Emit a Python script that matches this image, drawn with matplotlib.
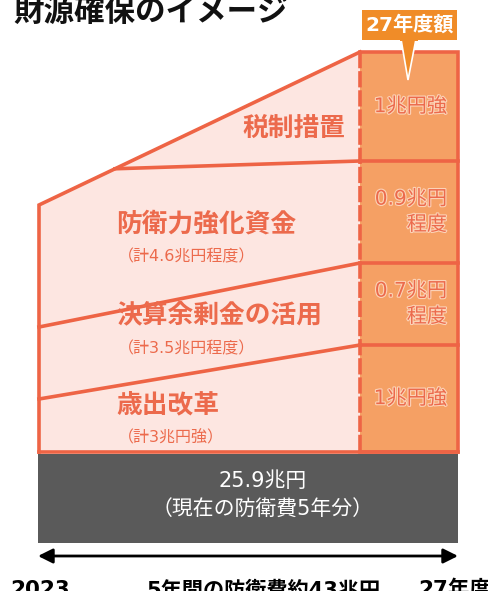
import matplotlib
matplotlib.use("Agg")
import matplotlib.pyplot as plt
from matplotlib.patches import Polygon, Rectangle
import matplotlib.patheffects as pe

plt.rcParams['font.family'] = ['Noto Sans CJK JP', 'DejaVu Sans']
MIX = ['DejaVu Sans', 'Noto Sans CJK JP']

# ---- data (schematic diagram, pixel-like units, y downward) ----
title = "財源確保のイメージ"
layer_names = ["歳出改革", "決算余剰金の活用", "防衛力強化資金", "税制措置"]
layer_totals = ["（計3兆円強）", "（計3.5兆円程度）", "（計4.6兆円程度）", ""]
annual_27 = ["1兆円強", "0.7兆円\n程度", "0.9兆円\n程度", "1兆円強"]
base_labels = ["25.9兆円", "（現在の防衛費5年分）"]
period_labels = ["2023", "5年間の防衛費約43兆円", "27年度"]
box_label = "27年度額"

# boundaries: x positions (2023 edge, start of FY27, end of FY27)
x_start, x_27, x_end = 39, 360, 458
# layer boundaries at left edge (bottom -> top) and at FY27 edge
left_bounds = [452, 399, 327, 205]
right_bounds = [452, 345, 263, 161, 52]
tax_start_x = 115
base_bottom = 543

RED = "#EE6445"
PINK = "#FDE6E1"
ORANGE = "#F5A064"
TAG = "#F08C28"
GRAY = "#5A5A5A"
TXT = "#EC6A4C"

fig = plt.figure(figsize=(4.89, 5.91), dpi=100)
ax = fig.add_axes([0, 0, 1, 1])
ax.set_xlim(0, 489)
ax.set_ylim(591, 0)
ax.axis("off")

# light area
top_at = lambda x: left_bounds[-1] + (right_bounds[-1] - left_bounds[-1]) * (x - x_start) / (x_27 - x_start)
ax.add_patch(Polygon([(x_start, left_bounds[0]), (x_start, left_bounds[-1]),
                      (x_27, right_bounds[-1]), (x_27, right_bounds[0])],
                     closed=True, facecolor=PINK, edgecolor="none", zorder=1))
# orange box
ax.add_patch(Rectangle((x_27, right_bounds[-1]), x_end - x_27, right_bounds[0] - right_bounds[-1],
                       facecolor=ORANGE, edgecolor="none", zorder=1))

lw = 2.6
# outline
ax.plot([x_start, x_start, x_27], [left_bounds[0], left_bounds[-1], right_bounds[-1]],
        color=RED, lw=lw, solid_joinstyle="miter", zorder=3)
ax.plot([x_start, x_end], [right_bounds[0], right_bounds[0]], color=RED, lw=lw, zorder=3)
ax.plot([x_27, x_end, x_end, x_27], [right_bounds[-1], right_bounds[-1], right_bounds[0], right_bounds[0]],
        color=RED, lw=lw, solid_joinstyle="miter", zorder=3)
# dividers
for i in range(1, 3):
    ax.plot([x_start, x_27], [left_bounds[i], right_bounds[i]], color=RED, lw=lw, zorder=3)
ax.plot([tax_start_x, x_27], [top_at(tax_start_x), right_bounds[3]], color=RED, lw=lw, zorder=3)
for i in range(1, 4):
    ax.plot([x_27, x_end], [right_bounds[i], right_bounds[i]], color=RED, lw=lw, zorder=3)
# dashed vertical line
ax.plot([x_27, x_27], [right_bounds[-1], right_bounds[0]], color=RED, lw=lw,
        dashes=(4.5, 0.8), zorder=4)

# layer labels
name_pos = [(116, 405), (116, 315), (116, 224), (345, 128)]
total_pos = [(118, 438), (118, 349), (118, 257)]
for i, name in enumerate(layer_names):
    x, y = name_pos[i]
    ax.text(x, y, name, ha="right" if i == 3 else "left", va="center",
            fontsize=18.5, fontweight="bold", color=TXT, zorder=5)
for i, t in enumerate(layer_totals[:3]):
    x, y = total_pos[i]
    ax.text(x, y, t, ha="left", va="center", fontsize=11.5, color=TXT,
            family=MIX, zorder=5)

# FY27 amounts
stroke = [pe.withStroke(linewidth=1.6, foreground="#FCD3B8")]
for i, a in enumerate(annual_27):
    yc = (right_bounds[i] + right_bounds[i + 1]) / 2
    ax.text(447, yc, a, ha="right", va="center", fontsize=14.5, color=TXT,
            family=MIX, linespacing=1.45, path_effects=stroke, zorder=5)

# tag "27年度額"
ax.add_patch(Rectangle((362, 10), 95, 30, facecolor=TAG, edgecolor="none", zorder=6))
ax.add_patch(Polygon([(401, 39), (416, 39), (408, 80)], closed=True,
                     facecolor=TAG, edgecolor="white", lw=1.2, zorder=6))
ax.add_patch(Rectangle((399.5, 36), 18, 5, facecolor=TAG, edgecolor="none", zorder=7))
ax.text(409.5, 25, box_label, ha="center", va="center", fontsize=14.5,
        fontweight="bold", color="white", family=MIX, zorder=8)

# base (current budget)
ax.add_patch(Rectangle((x_start - 1, right_bounds[0] + 1.5), x_end - x_start + 1,
                       base_bottom - right_bounds[0] - 1.5, facecolor=GRAY, edgecolor="none", zorder=2))
ax.text(263, 481, base_labels[0], ha="center", va="center", fontsize=15, color="white",
        family=MIX, zorder=5)
ax.text(263, 510, base_labels[1], ha="center", va="center", fontsize=15, color="white",
        family=MIX, zorder=5)

# arrow
ax.annotate("", xy=(x_start - 1, 556), xytext=(x_end, 556),
            arrowprops=dict(arrowstyle="<|-|>", color="black", lw=2,
                            mutation_scale=22, shrinkA=0, shrinkB=0))

# bottom labels
ax.text(10, 590, period_labels[0], ha="left", va="center", fontsize=15.5, fontweight="bold",
        family=MIX)
ax.text(263, 590, period_labels[1], ha="center", va="center", fontsize=15.2, fontweight="bold",
        family=MIX)
ax.text(418, 590, period_labels[2], ha="left", va="center", fontsize=15.5, fontweight="bold",
        family=MIX)

# title
ax.text(13, 12, title, ha="left", va="center", fontsize=22, fontweight="bold", color="#111111")

fig.savefig("out.png", dpi=100)
